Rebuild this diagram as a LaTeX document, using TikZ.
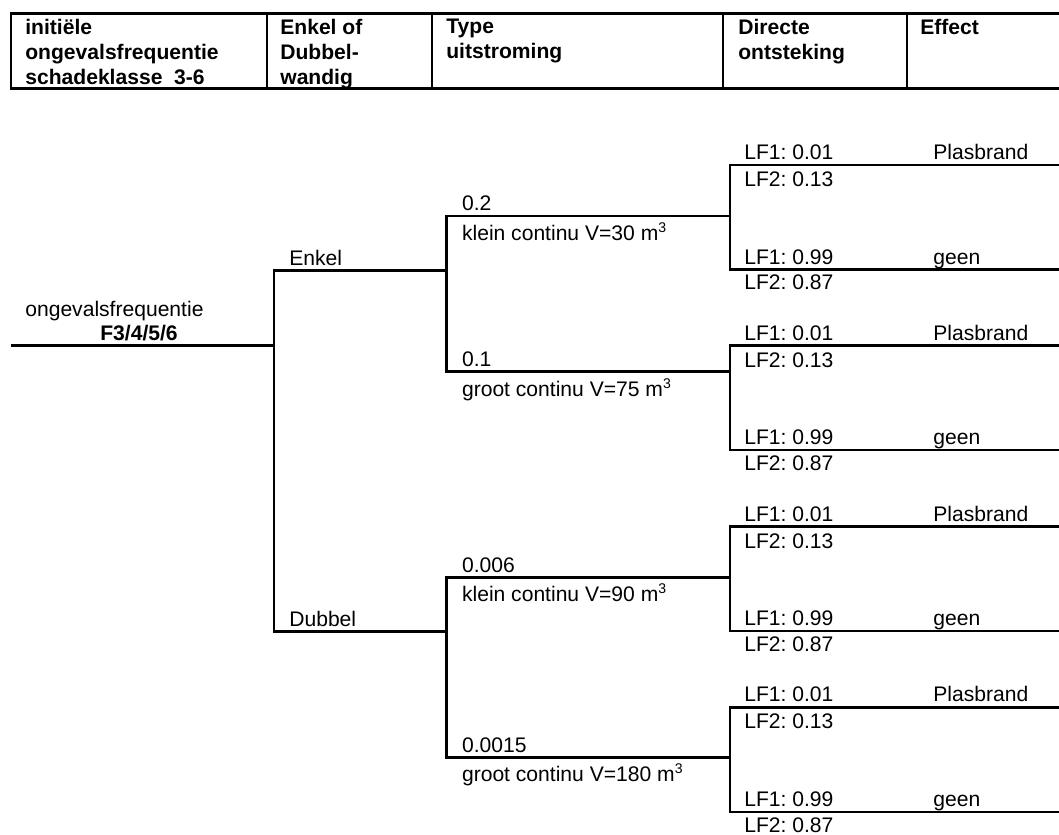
\documentclass[tikz,border=0pt]{standalone}
\usepackage{fontspec}
\setmainfont{Liberation Sans}
\usetikzlibrary{positioning}
\frenchspacing
\tikzset{
  tak/.style={line width=1.4pt,line join=miter},
  kop/.style={font=\fontsize{12}{14.2}\selectfont\bfseries,align=left,
    anchor=north west,inner sep=0pt},
  lbl/.style={font=\fontsize{12}{14.2}\selectfont,anchor=base west,inner sep=0pt},
}
\newcommand{\vol}[1]{#1~m\textsuperscript{3}}

\begin{document}
\begin{tikzpicture}[x=0.02cm,y=-0.02cm]
  \useasboundingbox (0,0) rectangle (1059,835);

  % kopregel van de tabel
  \draw[tak] (1059,13.3) -- (11,13.3) -- (11,88.3) -- (1059,88.3);
  \foreach \kx in {267,432,723,907} \draw[tak] (\kx,13.3) -- (\kx,88.3);
  \node[kop] (kinit) at (25,19)  {initiële\\ongevalsfrequentie\\schadeklasse~~3-6};
  \node[kop] (kwand) at (280,19) {Enkel of\\Dubbel-\\wandig};
  \node[kop] (ktype) at (446,19) {Type\\uitstroming};
  \node[kop] (konts) at (738,19) {Directe\\ontsteking};
  \node[kop] (keff)  at (920,19) {Effect};

  % stam: ongevalsfrequentie -> enkel / dubbel
  \coordinate (root) at (11,345.7);
  \coordinate (j1)   at (274,345.7);
  \coordinate (enk)  at (446.7,270.7);
  \coordinate (dub)  at (446.7,631.7);
  \draw[tak] (root) -- (j1);
  \draw[tak] (enk) -| (j1 |- dub) -- (dub);
  \node[lbl] (rfreq) at (25,316) {ongevalsfrequentie};
  \node[lbl,font=\fontsize{12}{14.2}\selectfont\bfseries] (rklas) at (100,340) {F3/4/5/6};
  \node[lbl] (lenk) at (289,265.2) {Enkel};
  \node[lbl] (ldub) at (289,626.2) {Dubbel};

  % type uitstroming
  \coordinate (kc30) at (446.7,216);   \coordinate (kc30e) at (730,216);
  \coordinate (gc75) at (446.7,371.7); \coordinate (gc75e) at (730,371.7);
  \coordinate (kc90) at (446.7,577.7); \coordinate (kc90e) at (730,577.7);
  \coordinate (gc180) at (446.7,757.7);\coordinate (gc180e) at (730,757.7);
  \draw[tak] (kc30e) -- (kc30) -- (gc75) -- (gc75e);
  \draw[tak] (kc90e) -- (kc90) -- (gc180) -- (gc180e);
  \node[lbl] (p30)  at (461.7,210.5) {0.2};
  \node[lbl] (t30)  at (461.7,240)   {klein continu V=\vol{30}};
  \node[lbl] (p75)  at (461.7,366.2) {0.1};
  \node[lbl] (t75)  at (461.7,396)   {groot continu V=\vol{75}};
  \node[lbl] (p90)  at (461.7,572.2) {0.006};
  \node[lbl] (t90)  at (461.7,601.5) {klein continu V=\vol{90}};
  \node[lbl] (p180) at (461.7,752.5) {0.0015};
  \node[lbl] (t180) at (461.7,781.5) {groot continu V=\vol{180}};

  % directe ontsteking en effect
  \foreach \g/\t in {a/165,b/345.7,c/526.7,d/707.3}{
    \coordinate (\g-ja)  at (730,\t);
    \coordinate (\g-nee) at (730,\t+104.5);
    \draw[tak] (1059,\t) -- (\g-ja) -- (\g-nee) -- (1059,\t+104.5);
    \node[lbl] (\g-lf1j) at (744,\t-5.5)   {LF1: 0.01};
    \node[lbl] (\g-lf2j) at (744,\t+21.6)  {LF2: 0.13};
    \node[lbl] (\g-plas) at (933,\t-5.5)   {Plasbrand};
    \node[lbl] (\g-lf1n) at (744,\t+99)    {LF1: 0.99};
    \node[lbl] (\g-lf2n) at (744,\t+124.8) {LF2: 0.87};
    \node[lbl] (\g-geen) at (933,\t+99)    {geen};
  }
\end{tikzpicture}
\end{document}
